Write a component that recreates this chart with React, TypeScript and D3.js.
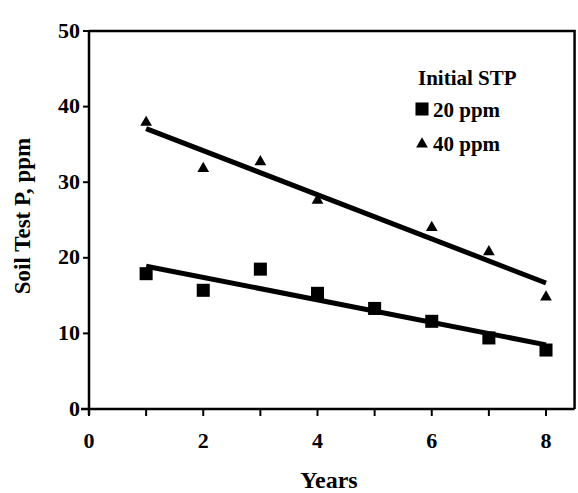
import React, { useEffect, useRef } from 'react'
import * as d3 from 'd3'

const years20 = [1, 2, 3, 4, 5, 6, 7, 8]
const stp20 = [17.9, 15.7, 18.5, 15.3, 13.3, 11.6, 9.4, 7.8]
const years40 = [1, 2, 3, 4, 6, 7, 8]
const stp40 = [37.9, 31.8, 32.7, 27.6, 24.0, 20.8, 14.8]
const yTicks = [0, 10, 20, 30, 40, 50]
const xTicks = [0, 1, 2, 3, 4, 5, 6, 7, 8]
const xLabels = [0, 2, 4, 6, 8]

// least squares fit
const fit = (xs: number[], ys: number[]) => {
  const mx = d3.mean(xs)!, my = d3.mean(ys)!
  const sxy = d3.sum(xs, (x, i) => (x - mx) * (ys[i] - my))
  const sxx = d3.sum(xs, (x) => (x - mx) ** 2)
  const b = sxy / sxx
  return (x: number) => my + b * (x - mx)
}

const App = () => {
  const ref = useRef<SVGSVGElement>(null)

  useEffect(() => {
    const svg = d3.select(ref.current)
    svg.selectAll('*').remove()
    const font = '"Liberation Serif", "Times New Roman", serif'

    const x = d3.scaleLinear().domain([0, 8]).range([89, 546])
    const y = d3.scaleLinear().domain([0, 50]).range([409, 31])
    const xMax = 8.5

    const g = svg.append('g')

    // frame
    g.append('path')
      .attr('d', `M${x(0)},${y(50)} H${x(xMax)} V${y(0)}`)
      .attr('fill', 'none').attr('stroke', '#000').attr('stroke-width', 2.5)
    g.append('line')
      .attr('x1', x(0)).attr('x2', x(0)).attr('y1', y(50)).attr('y2', y(0) + 6)
      .attr('stroke', '#000').attr('stroke-width', 2.5)
    g.append('line')
      .attr('x1', x(0) - 8).attr('x2', x(xMax)).attr('y1', y(0)).attr('y2', y(0))
      .attr('stroke', '#000').attr('stroke-width', 2.5)

    // y ticks
    g.selectAll('.yt').data(yTicks).enter().append('line')
      .attr('x1', x(0) - 6).attr('x2', x(0)).attr('y1', (d) => y(d)).attr('y2', (d) => y(d))
      .attr('stroke', '#000').attr('stroke-width', 2)
    g.selectAll('.yl').data(yTicks).enter().append('text')
      .attr('x', x(0) - 9).attr('y', (d) => y(d)).attr('dy', '0.3em')
      .attr('text-anchor', 'end').attr('font-family', font).attr('font-weight', 'bold')
      .attr('font-size', 22).text((d) => d)

    // x ticks
    g.selectAll('.xt').data(xTicks).enter().append('line')
      .attr('x1', (d) => x(d)).attr('x2', (d) => x(d)).attr('y1', y(0)).attr('y2', y(0) + 7)
      .attr('stroke', '#000').attr('stroke-width', 2)
    g.selectAll('.xl').data(xLabels).enter().append('text')
      .attr('x', (d) => x(d)).attr('y', 448)
      .attr('text-anchor', 'middle').attr('font-family', font).attr('font-weight', 'bold')
      .attr('font-size', 22).text((d) => d)

    // axis titles
    g.append('text')
      .attr('x', 329).attr('y', 488).attr('text-anchor', 'middle')
      .attr('font-family', font).attr('font-weight', 'bold').attr('font-size', 24)
      .text('Years')
    g.append('text')
      .attr('transform', 'translate(30,216) rotate(-90)').attr('text-anchor', 'middle')
      .attr('font-family', font).attr('font-weight', 'bold').attr('font-size', 23)
      .text('Soil Test P, ppm')

    // regression lines
    const f20 = fit(years20, stp20)
    const f40 = fit(years40, stp40)
    ;[f20, f40].forEach((f) => {
      g.append('line')
        .attr('x1', x(1)).attr('y1', y(f(1))).attr('x2', x(8)).attr('y2', y(f(8)))
        .attr('stroke', '#000').attr('stroke-width', 5)
    })

    // markers
    const sq = d3.symbol().type(d3.symbolSquare).size(170)
    const tri = d3.symbol().type(d3.symbolTriangle).size(60)
    g.selectAll('.s20').data(years20).enter().append('path')
      .attr('d', sq).attr('transform', (d, i) => `translate(${x(d)},${y(stp20[i])})`)
      .attr('fill', '#000')
    g.selectAll('.s40').data(years40).enter().append('path')
      .attr('d', tri).attr('transform', (d, i) => `translate(${x(d)},${y(stp40[i])})`)
      .attr('fill', '#000')

    // legend
    const lg = g.append('g').attr('font-family', font).attr('font-weight', 'bold')
    lg.append('text').attr('x', 418).attr('y', 85).attr('font-size', 21).text('Initial STP')
    lg.append('path').attr('d', sq).attr('transform', 'translate(422,109)').attr('fill', '#000')
    lg.append('text').attr('x', 433).attr('y', 117).attr('font-size', 21).text('20 ppm')
    lg.append('path').attr('d', tri).attr('transform', 'translate(422,144)').attr('fill', '#000')
    lg.append('text').attr('x', 433).attr('y', 151).attr('font-size', 21).text('40 ppm')
  }, [])

  return (
    <svg
      ref={ref}
      width={578}
      height={493}
      style={{ position: 'absolute', left: 0, top: 0, background: '#fff' }}
    />
  )
}

export default App
